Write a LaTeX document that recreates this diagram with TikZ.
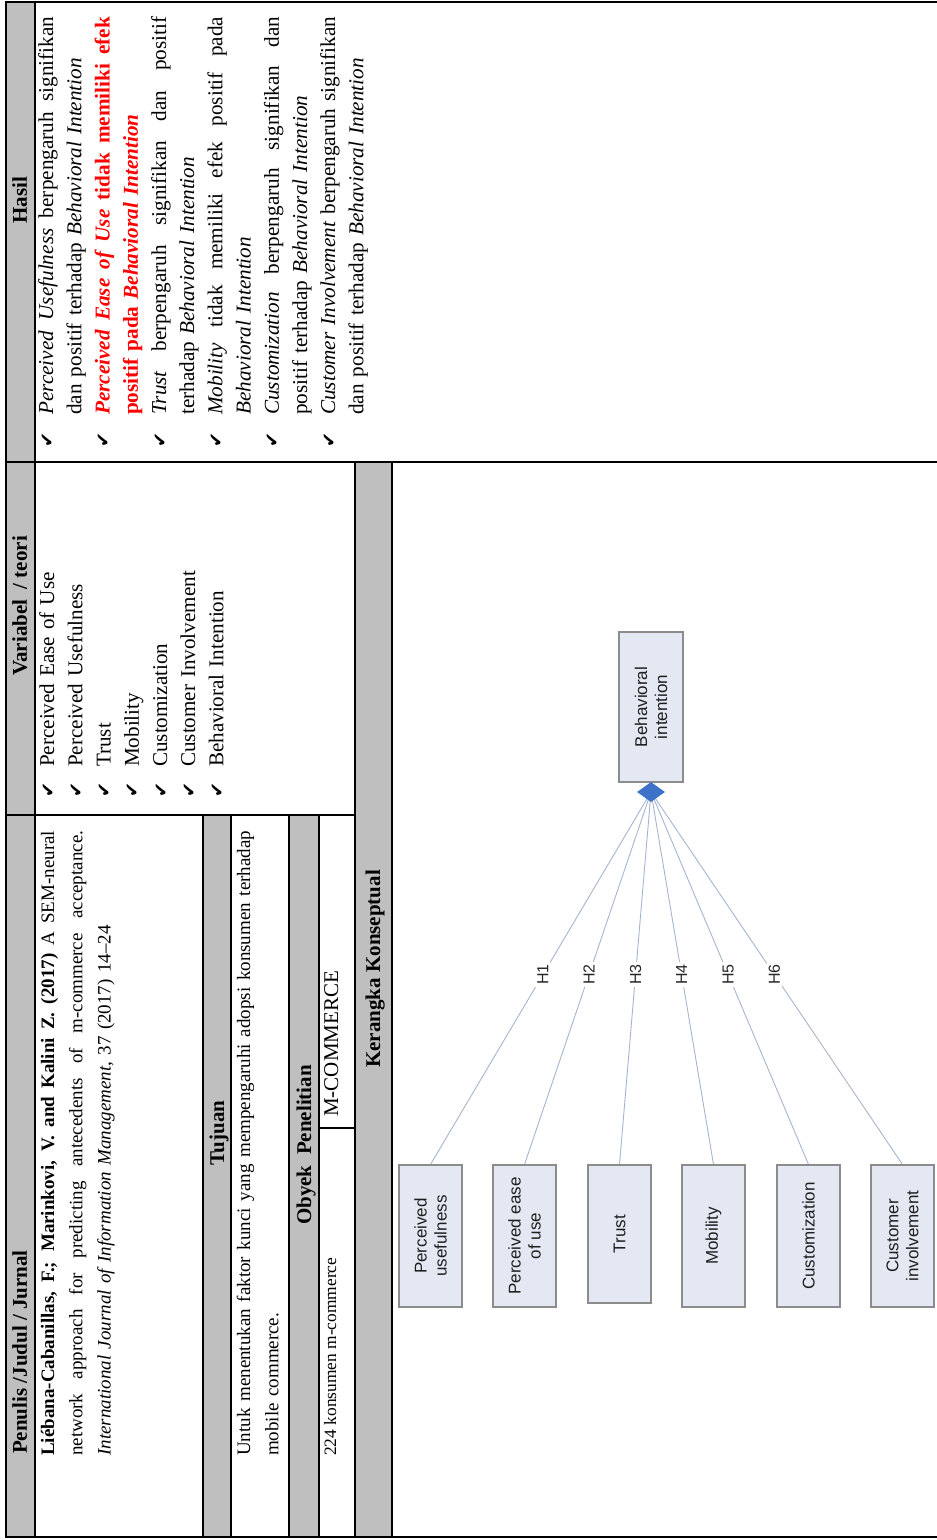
\documentclass[tikz,border=0pt]{standalone}
\usepackage{fontspec}
\setmainfont{Liberation Serif}
\newfontfamily\diagfont{Liberation Sans}
\newfontfamily\chkfont{DejaVu Sans}
\usetikzlibrary{shapes.geometric}
\pgfdeclarelayer{background}
\pgfsetlayers{background,main}
\definecolor{hdrgray}{HTML}{BFBFBF}
\definecolor{boxfill}{HTML}{E3E8F3}
\definecolor{boxline}{HTML}{8C8C8C}
\definecolor{linkblue}{HTML}{A5B4D0}
\definecolor{diablue}{HTML}{3D72C8}
% check mark used in the bullet lists
\newcommand{\chk}{{\chkfont\fontsize{18}{18}\selectfont ✔}}
% a line whose word spaces stretch to the given width
\newcommand{\jline}[2]{\makebox[#1][s]{\spaceskip=0pt\xspaceskip=0pt #2}}
\begin{document}
\begin{tikzpicture}[x=1pt,y=-1pt,
  rule/.style={line width=1.8pt},
  hdr/.style={rotate=90, anchor=base, inner sep=0pt, font=\fontsize{21}{28}\selectfont\bfseries},
  cell/.style={rotate=90, anchor=north west, inner sep=0pt},
  box/.style={rotate=90, draw=boxline, fill=boxfill, line width=1.1pt, align=center,
    inner sep=0pt, text=black!88, font=\diagfont\fontsize{17}{20}\selectfont},
  link/.style={draw=linkblue, line width=0.9pt},
  hlab/.style={rotate=90, fill=white, inner sep=2pt, text=black!85,
    font=\diagfont\fontsize{16}{16}\selectfont}
]
\useasboundingbox (0,0) rectangle (937,1540);

% shaded header strips
\fill[hdrgray] (6,2) rectangle (35,1537);
\fill[hdrgray] (203,815) rectangle (231,1537);
\fill[hdrgray] (289,815) rectangle (319,1537);
\fill[hdrgray] (355,462) rectangle (392,1537);

% table rules
\draw[rule] (937,2) -- (6,2) -- (6,1537) -- (937,1537);
\draw[rule] (35,2) -- (35,1537);
\draw[rule] (6,462) -- (937,462);
\draw[rule] (6,815) -- (355,815);
\draw[rule] (355,462) -- (355,1537);
\draw[rule] (392,462) -- (392,1537);
\draw[rule] (203,815) -- (203,1537);
\draw[rule] (231,815) -- (231,1537);
\draw[rule] (289,815) -- (289,1537);
\draw[rule] (319,815) -- (319,1537);
\draw[rule] (319,1128) -- (355,1128);

% column headings
\node[hdr] (hHasil) at (27,200) {Hasil};
\node[hdr] (hVar) at (27,606) {Variabel\ \ / teori};
\node[hdr] (hPen) at (27,1352) {Penulis /Judul / Jurnal};
\node[hdr] (hTuj) at (224,1133) {Tujuan};
\node[hdr] (hOby) at (311,1145) {Obyek\ \ Penelitian};
\node[hdr] (hKer) at (380,969) {Kerangka Konseptual};

% results
\node[cell, text width=432pt, font=\fontsize{21.2}{28.2}\selectfont] (hasil) at (33.3,448) {%
\noindent\strut\makebox[33pt][l]{\chk}\jline{398pt}{\textit{Perceived Usefulness} berpengaruh signifikan}\\
\hspace*{33pt}dan positif terhadap \textit{Behavioral Intention}\\
\makebox[33pt][l]{\chk}\jline{398pt}{\color{red}\bfseries\textit{Perceived Ease of Use} tidak memiliki efek}\\
\hspace*{33pt}{\color{red}\bfseries positif pada \textit{Behavioral Intention}}\\
\makebox[33pt][l]{\chk}\jline{398pt}{\textit{Trust} berpengaruh signifikan dan positif}\\
\hspace*{33pt}terhadap \textit{Behavioral Intention}\\
\makebox[33pt][l]{\chk}\jline{398pt}{\textit{Mobility} tidak memiliki efek positif pada}\\
\hspace*{33pt}\textit{Behavioral Intention}\\
\makebox[33pt][l]{\chk}\jline{398pt}{\textit{Customization} berpengaruh signifikan dan}\\
\hspace*{33pt}positif terhadap \textit{Behavioral Intention}\\
\makebox[33pt][l]{\chk}\jline{398pt}{\textit{Customer Involvement} berpengaruh signifikan}\\
\hspace*{33pt}dan positif terhadap \textit{Behavioral Intention}};

% variables
\node[cell, text width=360pt, font=\fontsize{21.1}{28.2}\selectfont] (vars) at (34.3,798) {%
\noindent\strut\makebox[31pt][l]{\chk}Perceived Ease of Use\\
\makebox[31pt][l]{\chk}Perceived Usefulness\\
\makebox[31pt][l]{\chk}Trust\\
\makebox[31pt][l]{\chk}Mobility\\
\makebox[31pt][l]{\chk}Customization\\
\makebox[31pt][l]{\chk}Customer Involvement\\
\makebox[31pt][l]{\chk}Behavioral Intention};

% reference
\node[cell, text width=626pt, font=\fontsize{19}{28.2}\selectfont] (pen) at (34.3,1456) {%
\noindent\strut\jline{625pt}{\textbf{Liébana-Cabanillas, F.; Marinkovi, V. and Kalini Z. (2017)} A SEM-neural}\\
\jline{625pt}{network approach for predicting antecedents of m-commerce acceptance.}\\
\textit{International Journal of Information Management}, 37 (2017) 14--24};

% aim
\node[cell, text width=626pt, font=\fontsize{19}{28.2}\selectfont] (tuj) at (230.3,1456) {%
\noindent\strut\jline{625pt}{Untuk menentukan faktor kunci yang mempengaruhi adopsi konsumen terhadap}\\
mobile commerce.};

% research object
\node[rotate=90, anchor=base west, inner sep=0pt, font=\fontsize{17.4}{20}\selectfont] (obj) at (336,1456) {224 konsumen m-commerce};
\node[rotate=90, anchor=base west, inner sep=0pt, font=\fontsize{21}{28}\selectfont] (objb) at (338,1117) {M-COMMERCE};

% conceptual framework
\node[box, minimum width=150pt, minimum height=64pt] (bi) at (651,707) {Behavioral\\intention};
\node[box, minimum width=142pt, minimum height=63pt] (pu) at (430.5,1236) {Perceived\\usefulness};
\node[box, minimum width=142pt, minimum height=63pt] (peu) at (524.5,1236) {Perceived ease\\of use};
\node[box, minimum width=138pt, minimum height=63pt] (tr) at (619.5,1234) {Trust};
\node[box, minimum width=142pt, minimum height=63pt] (mo) at (713.5,1236) {Mobility};
\node[box, minimum width=142pt, minimum height=63pt] (cu) at (808.5,1236) {Customization};
\node[box, minimum width=142pt, minimum height=63pt] (ci) at (902.5,1236) {Customer\\involvement};
\node[diamond, fill=diablue, minimum width=28pt, minimum height=20pt, inner sep=0pt] (dia) at (651,792) {};

\begin{pgfonlayer}{background}
\draw[link] (dia.center) -- node[hlab, pos=0.49] {H1} (pu.east);
\draw[link] (dia.center) -- node[hlab, pos=0.49] {H2} (peu.east);
\draw[link] (dia.center) -- node[hlab, pos=0.49] {H3} (tr.east);
\draw[link] (dia.center) -- node[hlab, pos=0.49] {H4} (mo.east);
\draw[link] (dia.center) -- node[hlab, pos=0.49] {H5} (cu.east);
\draw[link] (dia.center) -- node[hlab, pos=0.49] {H6} (ci.east);
\end{pgfonlayer}
\end{tikzpicture}
\end{document}
